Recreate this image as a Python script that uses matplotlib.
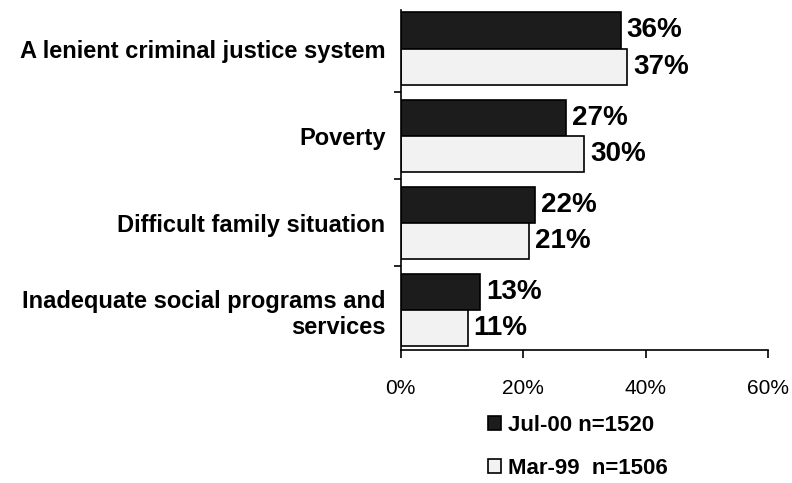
import matplotlib.pyplot as plt
import numpy as np

categories = ["A lenient criminal justice system",
              "Poverty",
              "Difficult family situation",
              "Inadequate social programs and\nservices"]
jul00 = [36, 27, 22, 13]
mar99 = [37, 30, 21, 11]
series_labels = ["Jul-00 n=1520", "Mar-99  n=1506"]
xticks = [0, 20, 40, 60]

plt.rcParams['font.family'] = ['Liberation Sans', 'DejaVu Sans']

fig = plt.figure(figsize=(7.92, 4.83), dpi=100)
ax = fig.add_axes([0.506, 0.275, 0.464, 0.704])

y = np.arange(len(categories))
h = 0.415
b1 = ax.barh(y - h / 2, jul00, height=h, color='#1c1c1c', edgecolor='black',
             linewidth=1.2, label=series_labels[0])
b2 = ax.barh(y + h / 2, mar99, height=h, color='#f2f2f2', edgecolor='black',
             linewidth=1.2, label=series_labels[1])

ax.bar_label(b1, labels=[f"{v}%" for v in jul00], padding=4,
             fontsize=20, fontweight='bold')
ax.bar_label(b2, labels=[f"{v}%" for v in mar99], padding=4,
             fontsize=20, fontweight='bold')

ax.set_xlim(0, 60)
ax.set_ylim(3.46, -0.44)
ax.set_xticks(xticks)
ax.set_xticklabels([f"{t}%" for t in xticks], fontsize=15)
ax.tick_params(axis='x', direction='out', length=6, width=1.2, pad=15)

ax.set_yticks(y)
ax.set_yticklabels(categories, fontsize=17, fontweight='bold',
                   linespacing=1.2)
ax.tick_params(axis='y', which='major', length=0, pad=11)
ax.set_yticks([0.5, 1.5, 2.5], minor=True)
ax.tick_params(axis='y', which='minor', direction='out', length=5, width=1.2)

for s in ['top', 'right']:
    ax.spines[s].set_visible(False)
for s in ['left', 'bottom']:
    ax.spines[s].set_linewidth(1.2)

fig.legend(handles=[b1, b2], labels=series_labels, loc='upper left',
           bbox_to_anchor=(0.605, 0.16), frameon=False,
           prop={'weight': 'bold', 'size': 16}, handlelength=0.6,
           handleheight=0.6, handletextpad=0.3, labelspacing=1.0,
           borderaxespad=0)

fig.savefig("out.png", dpi=100)
